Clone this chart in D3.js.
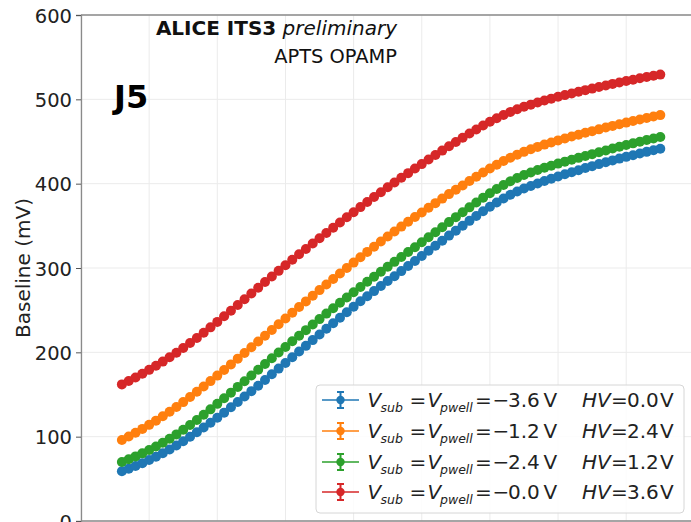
<!DOCTYPE html>
<html>
<head>
<meta charset="utf-8">
<script src="https://cdn.jsdelivr.net/npm/d3@7/dist/d3.min.js"></script>
<style>
  html, body { margin: 0; padding: 0; background: #fff; overflow: hidden; }
  svg { display: block; font-family: "DejaVu Sans", sans-serif; }
</style>
</head>
<body>
<svg id="chart" width="691" height="522"></svg>
<script>
// Scan steps (x) shared by all four bias settings
const steps = [6,7,8,9,10,11,12,13,14,15,16,17,18,19,20,21,22,23,24,25,
  26,27,28,29,30,31,32,33,34,35,36,37,38,39,40,41,42,43,44,45,
  46,47,48,49,50,51,52,53,54,55,56,57,58,59,60,61,62,63,64,65,
  66,67,68,69,70,71,72,73,74,75,76,77,78,79,80,81,82,83,84,85];

// Baseline (mV) for each bias setting
const baselineVsub36 = [59,62.0,65.2,68.6,72.3,76.3,80.4,84.8,89.5,94.5,99.8,105.2,110.8,116.6,122.5,128.5,134.8,141.2,147.6,154.0,
  160.4,167.2,174.0,180.7,187.4,194.1,200.9,207.7,214.5,221.2,227.9,234.5,241.1,247.6,254.1,260.5,266.6,272.6,278.6,284.5,
  290.3,296.3,302.3,308.3,314.3,320.5,326.4,332.4,338.4,344.3,350.1,355.9,361.6,367.2,372.6,377.7,382.5,386.9,390.8,394.2,
  397.3,400.3,403.2,405.9,408.6,411.1,413.6,416.0,418.5,420.8,423.2,425.4,427.6,429.7,431.8,433.8,435.8,437.7,439.6,441.4];
const baselineVsub12 = [96,100.2,104.6,109.2,114.0,119.0,124.2,129.6,135.2,141.0,147.0,153.2,159.5,165.9,172.4,179.0,185.7,192.5,199.3,206.1,
  212.9,219.7,226.5,233.3,240.1,246.9,253.7,260.4,267.1,273.8,280.4,287.0,293.5,300.0,306.4,312.8,319.1,325.3,331.4,337.4,
  343.3,349.1,354.8,360.4,365.9,371.5,376.9,382.3,387.6,392.8,397.9,403.1,408.2,413.2,418.0,422.5,426.8,430.8,434.4,437.7,
  440.8,443.6,446.3,448.8,451.3,453.6,455.9,458.1,460.3,462.3,464.4,466.5,468.5,470.5,472.4,474.3,476.1,477.9,479.6,481.3];
const baselineVsub24 = [70,73.2,76.6,80.2,84.1,88.3,92.8,97.6,102.7,108.1,113.8,119.8,126.0,132.4,138.9,145.5,152.2,159.0,165.8,172.6,
  179.4,186.2,193.0,199.7,206.4,213.1,219.7,226.3,232.9,239.4,245.9,252.3,258.7,265.0,271.3,277.5,283.6,289.6,295.6,301.5,
  307.3,313.1,318.9,324.7,330.5,336.5,342.4,348.4,354.4,360.3,366.1,371.9,377.6,383.2,388.6,393.7,398.5,402.9,406.8,410.2,
  413.3,416.1,418.8,421.3,423.8,426.1,428.4,430.6,432.9,435.0,437.2,439.4,441.6,443.7,445.8,447.8,449.8,451.7,453.6,455.4];
const baselineVsub00 = [162,166.0,170.2,174.6,179.2,184.0,189.0,194.2,199.6,205.2,211.0,217.0,223.2,229.6,236.1,242.7,249.4,256.2,263.0,269.8,
  276.6,283.3,290.0,296.6,303.2,309.7,316.2,322.6,329.0,335.3,341.6,347.8,354.0,360.1,366.2,372.2,378.2,384.1,389.9,395.7,
  401.4,407.0,412.5,417.9,423.2,428.6,433.9,439.2,444.4,449.5,454.5,459.4,464.2,468.9,473.4,477.6,481.5,485.1,488.3,491.1,
  493.7,496.2,498.6,500.8,503.0,505.0,507.0,508.9,510.9,512.7,514.6,516.5,518.3,520.0,521.7,523.3,524.9,526.4,527.9,529.3];

// Legend entries: substrate / p-well bias and HV
const vsubLabels = ["3.6", "1.2", "2.4", "0.0"];
const hvLabels = ["0.0", "2.4", "1.2", "3.6"];
const seriesColors = ["#1f77b4", "#ff7f0e", "#2ca02c", "#d62728"];
const seriesValues = [baselineVsub36, baselineVsub12, baselineVsub24, baselineVsub00];

const yTicks = [0, 100, 200, 300, 400, 500, 600];
const xGrid = [0, 10, 20, 30, 40, 50, 60, 70, 80, 90];

const svg = d3.select("#chart");
const plot = { left: 81, top: 15, bottom: 521, right: 708 };

const x = d3.scaleLinear().domain([0, 92]).range([plot.left, plot.right]);
const y = d3.scaleLinear().domain([0, 600]).range([plot.bottom, plot.top]);

// grid
const grid = svg.append("g");
grid.selectAll("line.gx").data(xGrid).join("line")
  .attr("x1", d => x(d)).attr("x2", d => x(d))
  .attr("y1", plot.top).attr("y2", plot.bottom)
  .attr("stroke", "#ebebeb").attr("stroke-width", 1);
grid.selectAll("line.gy").data(yTicks).join("line")
  .attr("x1", plot.left).attr("x2", plot.right)
  .attr("y1", d => y(d)).attr("y2", d => y(d))
  .attr("stroke", "#ebebeb").attr("stroke-width", 1);

// series
const line = d3.line().x((d, i) => x(steps[i])).y(d => y(d));
seriesValues.forEach((vals, k) => {
  const g = svg.append("g");
  g.append("path").datum(vals).attr("d", line)
    .attr("fill", "none").attr("stroke", seriesColors[k]).attr("stroke-width", 2);
  g.selectAll("circle").data(vals).join("circle")
    .attr("cx", (d, i) => x(steps[i])).attr("cy", d => y(d))
    .attr("r", 5).attr("fill", seriesColors[k]);
});

// spines
const spine = "#8a8a8a";
svg.append("line").attr("x1", plot.left).attr("x2", plot.right).attr("y1", plot.top).attr("y2", plot.top)
  .attr("stroke", spine).attr("stroke-width", 1.3);
svg.append("line").attr("x1", plot.left).attr("x2", plot.right).attr("y1", plot.bottom).attr("y2", plot.bottom)
  .attr("stroke", spine).attr("stroke-width", 1.3);

// y axis
const yAxis = svg.append("g").attr("transform", `translate(${plot.left},0)`)
  .call(d3.axisLeft(y).tickValues(yTicks).tickSize(5).tickPadding(4));
yAxis.select(".domain").attr("stroke", spine).attr("stroke-width", 1.3);
yAxis.selectAll(".tick line").attr("stroke", "#555");
yAxis.selectAll(".tick text").attr("font-size", 19.5).attr("fill", "#222")
  .attr("font-family", "DejaVu Sans").attr("dy", "0.36em");

svg.append("text")
  .attr("transform", `translate(30,${(plot.top + plot.bottom) / 2}) rotate(-90)`)
  .attr("text-anchor", "middle").attr("font-size", 20).attr("fill", "#222")
  .text("Baseline (mV)");

// header text
const head = svg.append("text").attr("x", 397).attr("y", 35).attr("text-anchor", "end")
  .attr("font-size", 20).attr("fill", "#111");
head.append("tspan").attr("font-weight", "bold").text("ALICE ITS3");
head.append("tspan").attr("font-style", "italic").text(" preliminary");
svg.append("text").attr("x", 397).attr("y", 63).attr("text-anchor", "end")
  .attr("font-size", 19.4).attr("fill", "#111").text("APTS OPAMP");
svg.append("text").attr("x", 114).attr("y", 108).attr("font-size", 32)
  .attr("font-weight", "bold").attr("fill", "#000").text("J5");

// legend
const lg = svg.append("g");
lg.append("rect").attr("x", 316).attr("y", 385).attr("width", 368).attr("height", 128)
  .attr("rx", 4).attr("fill", "#fff").attr("fill-opacity", 0.85)
  .attr("stroke", "#d6d6d6").attr("stroke-width", 1);

const rowY = [400, 431, 462, 492];
vsubLabels.forEach((vs, k) => {
  const cy = rowY[k];
  const c = seriesColors[k];
  const row = lg.append("g");
  row.append("line").attr("x1", 322).attr("x2", 359).attr("y1", cy).attr("y2", cy)
    .attr("stroke", c).attr("stroke-width", 1.6);
  row.append("line").attr("x1", 340.5).attr("x2", 340.5).attr("y1", cy - 8).attr("y2", cy + 8)
    .attr("stroke", c).attr("stroke-width", 2);
  [-8, 8].forEach(o => row.append("line").attr("x1", 337).attr("x2", 344)
    .attr("y1", cy + o).attr("y2", cy + o).attr("stroke", c).attr("stroke-width", 2));
  row.append("circle").attr("cx", 340.5).attr("cy", cy).attr("r", 4.2).attr("fill", c);

  // math-style label, each piece set at its own offset from the label start
  const pieces = [
    { t: "V", it: true, dx: 0 },
    { t: "sub", it: true, sub: true, dx: 13 },
    { t: "=", dx: 42 },
    { t: "V", it: true, dx: 60 },
    { t: "pwell", it: true, sub: true, dx: 72.5 },
    { t: "=", dx: 107.5 },
    { t: "\u2212", dx: 125 },
    { t: vs, dx: 140.5 },
    { t: "V", dx: 176 },
    { t: "HV", it: true, dx: 214.5 },
    { t: "=", dx: 243.5 },
    { t: hvLabels[k], dx: 259.5 },
    { t: "V", dx: 292.5 }
  ];
  const x0 = 367.5;
  const base = cy + 7;
  pieces.forEach(p => {
    row.append("text").attr("x", x0 + p.dx).attr("y", p.sub ? base + 4.5 : base)
      .attr("font-size", p.sub ? 12.5 : 20).attr("fill", "#222")
      .attr("font-style", p.it ? "italic" : "normal").text(p.t);
  });
});
</script>
</body>
</html>
